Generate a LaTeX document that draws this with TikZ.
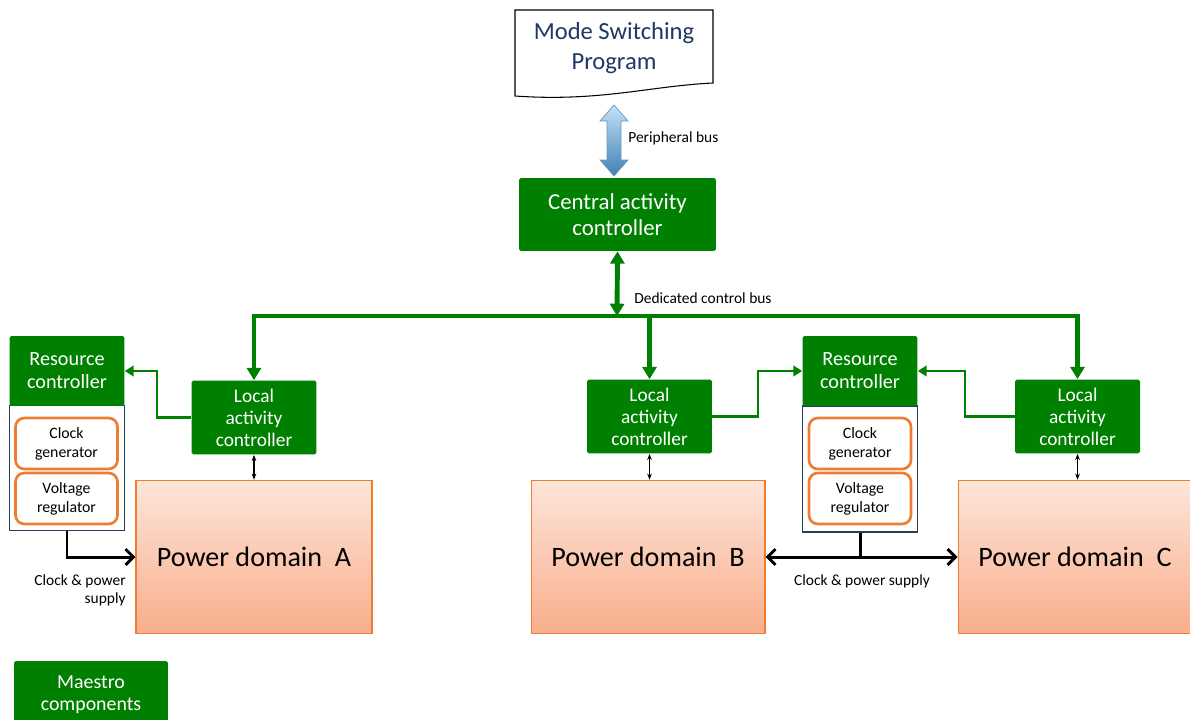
\documentclass[tikz,border=0pt]{standalone}
\usepackage{fontspec}
\setmainfont{Carlito}
\usepackage{xcolor}
\usepackage{tikz}
\usetikzlibrary{arrows.meta,positioning,calc}

\definecolor{maestro}{RGB}{0,128,0}
\definecolor{pdtop}{RGB}{253,229,217}
\definecolor{pdbot}{RGB}{249,174,140}
\definecolor{pdedge}{RGB}{237,125,49}
\definecolor{navy}{RGB}{31,56,100}
\definecolor{slate}{RGB}{38,64,87}
\definecolor{busfill}{RGB}{64,128,180}
\definecolor{buslight}{RGB}{196,226,246}

\tikzset{
  green box/.style={fill=maestro, text=white, rounded corners=1pt},
  lac/.style={minimum width=2.5cm, minimum height=1.48cm, font=\fontsize{11}{12.5}\selectfont},
  rc/.style={minimum width=2.3cm, minimum height=1.4cm, font=\fontsize{11.5}{13}\selectfont},
  unit box/.style={draw=slate, line width=0.7pt, fill=white, minimum width=2.3cm, minimum height=2.5cm},
  part/.style={draw=pdedge, line width=1.5pt, rounded corners=5pt, fill=white,
    minimum width=2.04cm, minimum height=1.02cm, font=\fontsize{9}{10.8}\selectfont},
  pdbox/.style={draw=pdedge, line width=0.6pt, top color=pdtop, bottom color=pdbot,
    minimum height=3.07cm, font=\fontsize{16}{18}\selectfont},
  small label/.style={font=\fontsize{8.8}{10.2}\selectfont},
  gbus/.style={draw=maestro, line width=2.8pt},
  gthin/.style={draw=maestro, line width=1.2pt, -{Triangle[width=6pt,length=5pt]}},
  supply/.style={line width=1.7pt},
  barb/.tip={Straight Barb[width=9pt,length=4.5pt,line width=1.7pt]}
}

\begin{document}
\begin{tikzpicture}[x=0.02cm, y=-0.02cm, every node/.style={inner sep=0pt, align=center}]
    \useasboundingbox (0,0) rectangle (1190,720);

    % Mode switching program (document shape)
    \draw[line width=0.6pt, fill=white] (515,10) -- (713,10) -- (713,83)
        .. controls (650,86) and (600,102) .. (515,96) -- cycle;
    \node[text=navy, font=\fontsize{14}{17}\selectfont] (msp) at (614,48) {Mode Switching\\Program};

    % Central activity controller
    \node[green box, minimum width=3.94cm, minimum height=1.46cm,
        font=\fontsize{13}{14.5}\selectfont] (cac) at (617.5,214.5) {Central activity\\controller};

    % Peripheral bus
    \coordinate (pbt) at (614,105);
    \coordinate (pbb) at (614,176);
    \shade[top color=buslight, bottom color=busfill, draw=busfill!80, line width=0.4pt]
        (pbt) -- ++(14,16) -- ++(-7,0) -- ++(0,39) -- ++(7,0) -- (pbb)
        -- ++(-14,-16) -- ++(7,0) -- ++(0,-39) -- ++(-7,0) -- cycle;
    \node[small label, anchor=west] (pbl) at (628,138) {Peripheral bus};

    % Local activity controllers
    \foreach \n/\x/\y in {a/254/417.5, b/649.5/416.5, c/1077.5/416.5} {
        \node[green box, lac] (lac\n) at (\x,\y) {Local\\activity\\controller};
    }

    % Power domains
    \foreach \n/\x/\w in {a/254/4.72cm, b/648/4.68cm, c/1075/4.68cm} {
        \node[pdbox, minimum width=\w] (pd\n) at (\x,557) {};
    }
    \node[font=\fontsize{16}{18}\selectfont] at (pda) {Power domain~~A};
    \node[font=\fontsize{16}{18}\selectfont] at (pdb) {Power domain~~B};
    \node[font=\fontsize{16}{18}\selectfont] at (pdc) {Power domain~~C};

    % Resource controllers
    \node[unit box] (ua) at (67,468) {};
    \node[green box, rc] (rca) at (67,371) {Resource\\controller};
    \node[part] (cga) at (66.5,443.5) {Clock\\generator};
    \node[part] (vra) at (66.5,498.5) {Voltage\\regulator};

    \node[unit box, minimum height=2.52cm] (um) at (860,469) {};
    \node[green box, rc] (rcm) at (860,371) {Resource\\controller};
    \node[part] (cgm) at (860,443.5) {Clock\\generator};
    \node[part] (vrm) at (860,498.5) {Voltage\\regulator};

    % Dedicated control bus
    \coordinate (jn) at (617,316);
    \draw[gbus, {Triangle[width=8pt,length=7pt]}-{Triangle[width=8pt,length=7pt]}] (cac.south) -- (jn);
    \foreach \n in {a,b,c} {
        \draw[gbus, -{Triangle[width=8pt,length=7pt]}] (jn) -| (lac\n.north);
    }
    \node[small label, anchor=west] (dcb) at (634,298) {Dedicated control bus};

    % LAC to resource controller
    \draw[gthin] (laca.west) -- ++(-34,0) |- (rca.east);
    \draw[gthin] (lacb.east) -- ++(46,0) |- (rcm.west);
    \draw[gthin] (lacc.west) -- ++(-50,0) |- (rcm.east);

    % LAC to power domain
    \foreach \n in {a,b,c} {
        \draw[line width=0.6pt, {Stealth[length=3.5pt]}-{Stealth[length=3.5pt]}]
            (lac\n.south) -- (lac\n.south |- pd\n.north);
    }

    % Clock & power supply
    \draw[supply, -barb] (ua.south) |- (pda.west);
    \draw[supply] (um.south) -- (um.south |- pdb.east);
    \draw[supply, barb-barb] (pdb.east) -- (pdc.west);
    \node[small label, anchor=north east, align=right] (cpa) at (126,574) {Clock \& power\\supply};
    \node[small label] (cpm) at (862,581) {Clock \& power supply};

    % Legend
    \node[green box, minimum width=3.08cm, minimum height=1.36cm,
        font=\fontsize{11.3}{12.5}\selectfont] (leg) at (91,695) {Maestro\\components};
\end{tikzpicture}
\end{document}
